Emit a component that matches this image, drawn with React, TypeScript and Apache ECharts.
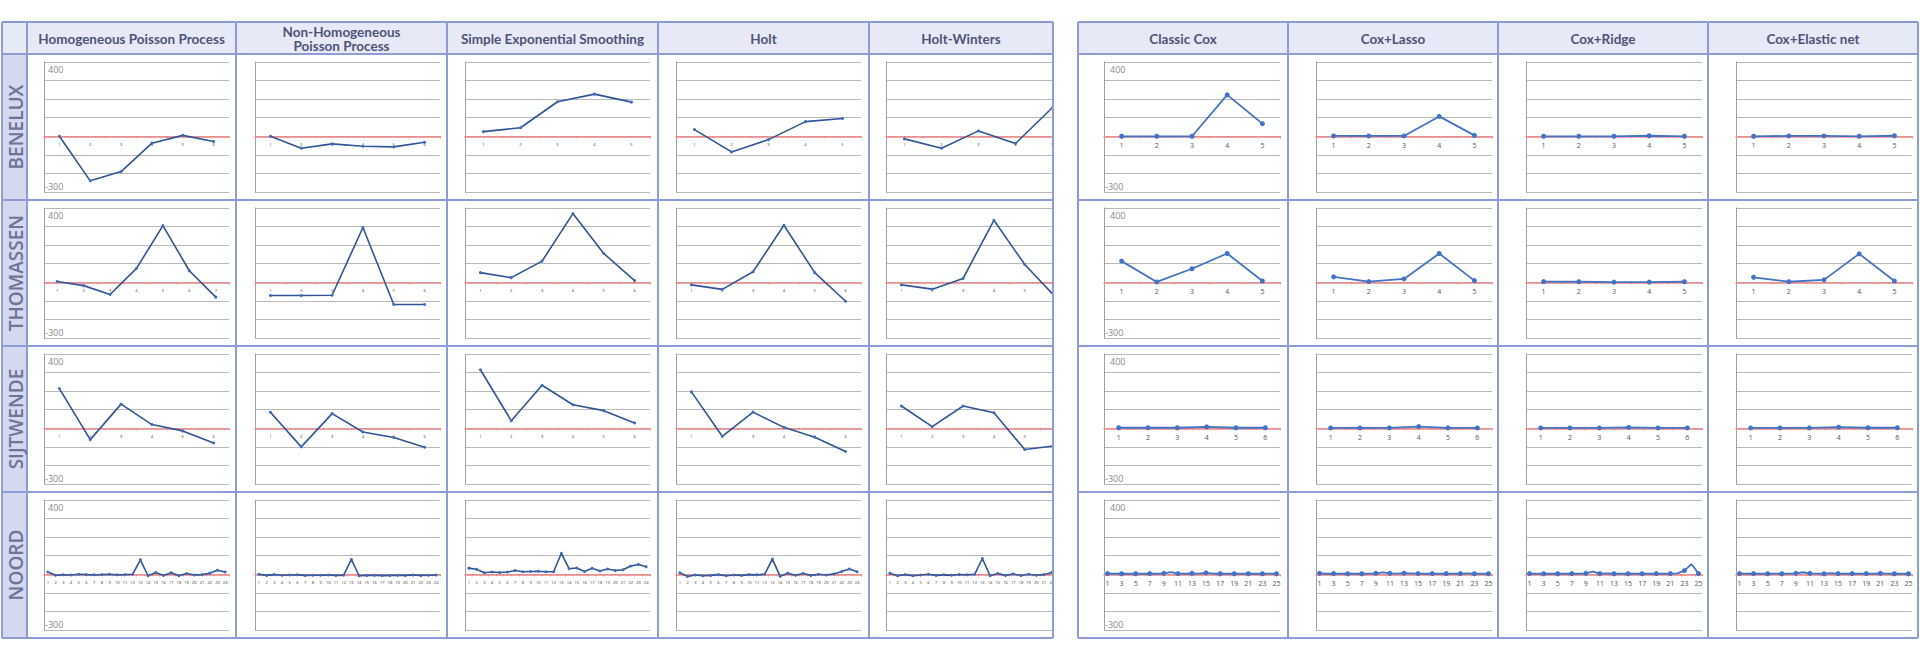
import React, { useEffect, useRef } from "react";
import * as echarts from "echarts";

// ---------- labels ----------
const rowNames = ["BENELUX", "THOMASSEN", "SIJTWENDE", "NOORD"];
const leftMethods = [
  "Homogeneous Poisson Process",
  "Non-Homogeneous\nPoisson Process",
  "Simple Exponential Smoothing",
  "Holt",
  "Holt-Winters",
];
const rightMethods = ["Classic Cox", "Cox+Lasso", "Cox+Ridge", "Cox+Elastic net"];
const yTickLabels = ["400", "-300"];
const yMin = -300;
const yMax = 400;
const yStep = 100;

// ---------- BENELUX ----------
const hppBenelux = [0, -240, -190, -37, 5, -28];
const nhppBenelux = [0, -64, -41, -54, -57, -32];
const sesBenelux = [25, 46, 186, 227, 184];
const holtBenelux = [36, -84, -18, 79, 96];
const hwBenelux = [-14, -64, 29, -39, 155];
const coxBenelux = [0, 0, 0, 223, 68];
const lassoBenelux = [2, 2, 2, 107, 5];
const ridgeBenelux = [0, 0, 0, 3, 0];
const elasticBenelux = [0, 2, 2, 0, 3];

// ---------- THOMASSEN ----------
const hppThomassen = [4, -18, -66, 75, 305, 62, -80];
const nhppThomassen = [-71, -71, -70, 295, -120, -120];
const sesThomassen = [52, 25, 114, 370, 155, 9];
const holtThomassen = [-14, -38, 57, 307, 52, -102];
const hwThomassen = [-14, -37, 21, 334, 96, -80];
const coxThomassen = [114, 2, 73, 155, 7];
const lassoThomassen = [29, 4, 18, 155, 9];
const ridgeThomassen = [4, 3, 1, 1, 3];
const elasticThomassen = [27, 3, 13, 153, 7];

// ---------- SIJTWENDE ----------
const hppSijtwende = [214, -61, 130, 20, -14, -79];
const nhppSijtwende = [86, -100, 79, -20, -50, -102];
const sesSijtwende = [315, 41, 232, 127, 95, 29];
const holtSijtwende = [196, -43, 87, 5, -48, -125];
const hwSijtwende = [120, 9, 120, 84, -114, -94];
const coxSijtwende = [3, 3, 3, 8, 3, 3];
const lassoSijtwende = [2, 2, 2, 9, 2, 2];
const ridgeSijtwende = [2, 2, 2, 5, 2, 2];
const elasticSijtwende = [2, 2, 2, 6, 3, 3];

// ---------- NOORD ----------
const hppNoord = [12, -5, -3, -4, 0, -2, -3, -2, 0, -3, -2, 0, 78, -8, 10, -6, 8, -8, 4, -4, -2, 6, 22, 12];
const nhppNoord = [0, -6, -2, -5, -4, -3, -6, -5, -5, -4, -6, -5, 80, -8, -6, -5, -7, -6, -5, -6, -4, -6, -5, -4];
const sesNoord = [33, 27, 8, 12, 10, 12, 20, 14, 15, 16, 14, 14, 113, 30, 34, 15, 32, 18, 28, 20, 24, 45, 53, 40];
const holtNoord = [8, -12, -4, -8, -6, -2, -8, -4, -6, -2, -3, 0, 82, -10, 6, -5, 4, -6, 0, -4, 2, 15, 28, 14];
const hwNoord = [5, -8, -2, -8, -4, 0, -6, -3, -5, -1, -3, 0, 85, -8, 4, -6, 2, -7, 0, -5, -2, 10, 20, 10];
const coxNoord = [4, 3, 3, 4, 3, 3, 4, 3, 5, 12, 4, 3, 5, 4, 8, 4, 3, 4, 3, 4, 3, 4, 3, 4, 3];
const lassoNoord = [5, 3, 4, 3, 3, 4, 3, 4, 5, 10, 5, 4, 6, 5, 4, 3, 4, 3, 4, 3, 4, 5, 3, 4, 3];
const ridgeNoord = [4, 3, 3, 4, 3, 3, 4, 3, 5, 14, 4, 5, 3, 4, 3, 4, 3, 3, 4, 3, 4, 5, 20, 55, 4];
const elasticNoord = [4, 3, 4, 3, 3, 4, 3, 4, 5, 11, 5, 4, 3, 6, 4, 3, 4, 3, 4, 3, 5, 4, 3, 4, 3];

const leftData = [
  [hppBenelux, nhppBenelux, sesBenelux, holtBenelux, hwBenelux],
  [hppThomassen, nhppThomassen, sesThomassen, holtThomassen, hwThomassen],
  [hppSijtwende, nhppSijtwende, sesSijtwende, holtSijtwende, hwSijtwende],
  [hppNoord, nhppNoord, sesNoord, holtNoord, hwNoord],
];
const rightData = [
  [coxBenelux, lassoBenelux, ridgeBenelux, elasticBenelux],
  [coxThomassen, lassoThomassen, ridgeThomassen, elasticThomassen],
  [coxSijtwende, lassoSijtwende, ridgeSijtwende, elasticSijtwende],
  [coxNoord, lassoNoord, ridgeNoord, elasticNoord],
];

// ---------- layout ----------
const ROW_Y = [22, 54, 200, 346, 492, 638];
const LEFT_COL_X = [2, 27, 236, 447, 658, 869, 1053];
const RIGHT_COL_X = [1078, 1288, 1498, 1708, 1918];
const LEFT_PLOT_X = [44, 255, 465, 676, 886];
const RIGHT_PLOT_X = [1104, 1316, 1526, 1736];
const LEFT_PLOT_W = 185;
const RIGHT_PLOT_W = 176;
const PLOT_TOP_PAD = 8;
const PLOT_H = 130;
// x axis sits on the zero line: distance of zero above the bottom of the plot
const ZERO_OFFSET = (PLOT_H * (0 - yMin)) / (yMax - yMin);

const BORDER = "#8d9cd6";
const HEADER_BG = "#e7e9f6";
const LABEL_BG = "#d5d9ef";
const GRID_COLOR = "#b9b9b9";
const ZERO_RED = "#ef8585";

function buildOption() {
  const grid: any[] = [];
  const xAxis: any[] = [];
  const yAxis: any[] = [];
  const series: any[] = [];
  const graphic: any[] = [];

  const addChart = (
    left: number,
    top: number,
    width: number,
    values: number[],
    isCox: boolean
  ) => {
    const idx = grid.length;
    grid.push({ left, top, width, height: PLOT_H, containLabel: false });
    const cats = values.map((_, i) => String(i + 1));
    xAxis.push({
      type: "category",
      gridIndex: idx,
      data: cats,
      boundaryGap: true,
      position: "bottom",
      offset: -ZERO_OFFSET,
      axisLine: { onZero: false, lineStyle: { color: ZERO_RED, width: 1.5 } },
      axisTick: { show: true, length: 2, lineStyle: { color: ZERO_RED, width: 1 } },
      axisLabel: isCox
        ? { fontSize: 7, color: "#555", margin: 6, interval: values.length > 12 ? 1 : 0, fontFamily: "Open Sans", hideOverlap: false }
        : { fontSize: 4, color: "#333", margin: 6, interval: 0, fontFamily: "Open Sans", hideOverlap: false },
      splitLine: { show: false },
      z: 2,
    });
    yAxis.push({
      type: "value",
      gridIndex: idx,
      min: yMin,
      max: yMax,
      interval: yStep,
      axisLine: { show: true, onZero: false, lineStyle: { color: "#a0a0a0", width: 1 } },
      axisTick: { show: false },
      axisLabel: { show: false },
      splitLine: { show: true, lineStyle: { color: GRID_COLOR, width: 1 } },
    });
    series.push({
      type: "line",
      xAxisIndex: idx,
      yAxisIndex: idx,
      data: values,
      symbol: "circle",
      symbolSize: isCox ? 5 : 3,
      showSymbol: true,
      lineStyle: { color: isCox ? "#4472c4" : "#2f5597", width: isCox ? 1.8 : 1.6 },
      itemStyle: { color: isCox ? "#4472c4" : "#3f6bb8" },
      z: 3,
    });
  };

  for (let r = 0; r < 4; r++) {
    const top = ROW_Y[r + 1] + PLOT_TOP_PAD;
    for (let c = 0; c < 5; c++) addChart(LEFT_PLOT_X[c], top, LEFT_PLOT_W, leftData[r][c], false);
    for (let c = 0; c < 4; c++) addChart(RIGHT_PLOT_X[c], top, RIGHT_PLOT_W, rightData[r][c], true);

    // y range labels (only first column of each table)
    [LEFT_PLOT_X[0], RIGHT_PLOT_X[0]].forEach((px, k) => {
      graphic.push({
        type: "text",
        z: 60,
        x: px + (k === 0 ? 4 : 6),
        y: top + 7,
        style: { text: yTickLabels[0], fill: "#8a8a8a", fontSize: 9, fontFamily: "Open Sans", textAlign: "left", textVerticalAlign: "middle" },
      });
      graphic.push({
        type: "text",
        z: 60,
        x: px + 1,
        y: top + PLOT_H - 6,
        style: { text: yTickLabels[1], fill: "#8a8a8a", fontSize: 9, fontFamily: "Open Sans", textAlign: "left", textVerticalAlign: "middle" },
      });
    });
  }

  // backgrounds
  graphic.push({ type: "rect", z: 1, shape: { x: LEFT_COL_X[0], y: ROW_Y[0], width: LEFT_COL_X[6] - LEFT_COL_X[0], height: ROW_Y[1] - ROW_Y[0] }, style: { fill: HEADER_BG } });
  graphic.push({ type: "rect", z: 1, shape: { x: LEFT_COL_X[0], y: ROW_Y[1], width: LEFT_COL_X[1] - LEFT_COL_X[0], height: ROW_Y[5] - ROW_Y[1] }, style: { fill: LABEL_BG } });
  graphic.push({ type: "rect", z: 1, shape: { x: RIGHT_COL_X[0], y: ROW_Y[0], width: RIGHT_COL_X[4] - RIGHT_COL_X[0], height: ROW_Y[1] - ROW_Y[0] }, style: { fill: HEADER_BG } });
  // cover for clipped Holt-Winters column
  graphic.push({ type: "rect", z: 80, shape: { x: LEFT_COL_X[6] + 1, y: ROW_Y[1], width: RIGHT_COL_X[0] - LEFT_COL_X[6] - 2, height: ROW_Y[5] - ROW_Y[1] + 4 }, style: { fill: "#ffffff" } });

  // borders
  const bline = (x1: number, y1: number, x2: number, y2: number) =>
    graphic.push({ type: "line", z: 90, shape: { x1, y1, x2, y2 }, style: { stroke: BORDER, lineWidth: 2 } });
  ROW_Y.forEach((y) => {
    bline(LEFT_COL_X[0], y, LEFT_COL_X[6], y);
    bline(RIGHT_COL_X[0], y, RIGHT_COL_X[4], y);
  });
  LEFT_COL_X.forEach((x) => bline(x, ROW_Y[0], x, ROW_Y[5]));
  RIGHT_COL_X.forEach((x) => bline(x, ROW_Y[0], x, ROW_Y[5]));

  // headers
  const headerY = (ROW_Y[0] + ROW_Y[1]) / 2 + 1;
  leftMethods.forEach((m, i) => {
    graphic.push({
      type: "text",
      z: 95,
      x: (LEFT_COL_X[i + 1] + LEFT_COL_X[i + 2]) / 2,
      y: headerY,
      style: { text: m, fill: "#4e5377", fontSize: 13.5, fontWeight: "bold", fontFamily: "Lato", textAlign: "center", textVerticalAlign: "middle", lineHeight: 14 },
    });
  });
  rightMethods.forEach((m, i) => {
    graphic.push({
      type: "text",
      z: 95,
      x: (RIGHT_COL_X[i] + RIGHT_COL_X[i + 1]) / 2,
      y: headerY,
      style: { text: m, fill: "#4e5377", fontSize: 13.5, fontWeight: "bold", fontFamily: "Lato", textAlign: "center", textVerticalAlign: "middle" },
    });
  });
  rowNames.forEach((n, r) => {
    graphic.push({
      type: "text",
      z: 95,
      x: (LEFT_COL_X[0] + LEFT_COL_X[1]) / 2 + 1,
      y: (ROW_Y[r + 1] + ROW_Y[r + 2]) / 2,
      rotation: Math.PI / 2,
      style: { text: n, fill: "#6e7399", fontSize: 19, fontWeight: 600, fontFamily: "Open Sans", textAlign: "center", textVerticalAlign: "middle" },
    });
  });

  return {
    animation: false,
    backgroundColor: "#ffffff",
    grid,
    xAxis,
    yAxis,
    series,
    graphic: { elements: graphic },
  };
}

export default function App() {
  const ref = useRef<HTMLDivElement>(null);
  useEffect(() => {
    document.body.style.margin = "0";
    if (!ref.current) return;
    const chart = echarts.init(ref.current, undefined, { renderer: "svg" });
    chart.setOption(buildOption() as any);
    return () => chart.dispose();
  }, []);
  return <div ref={ref} style={{ width: 1920, height: 655 }} />;
}
